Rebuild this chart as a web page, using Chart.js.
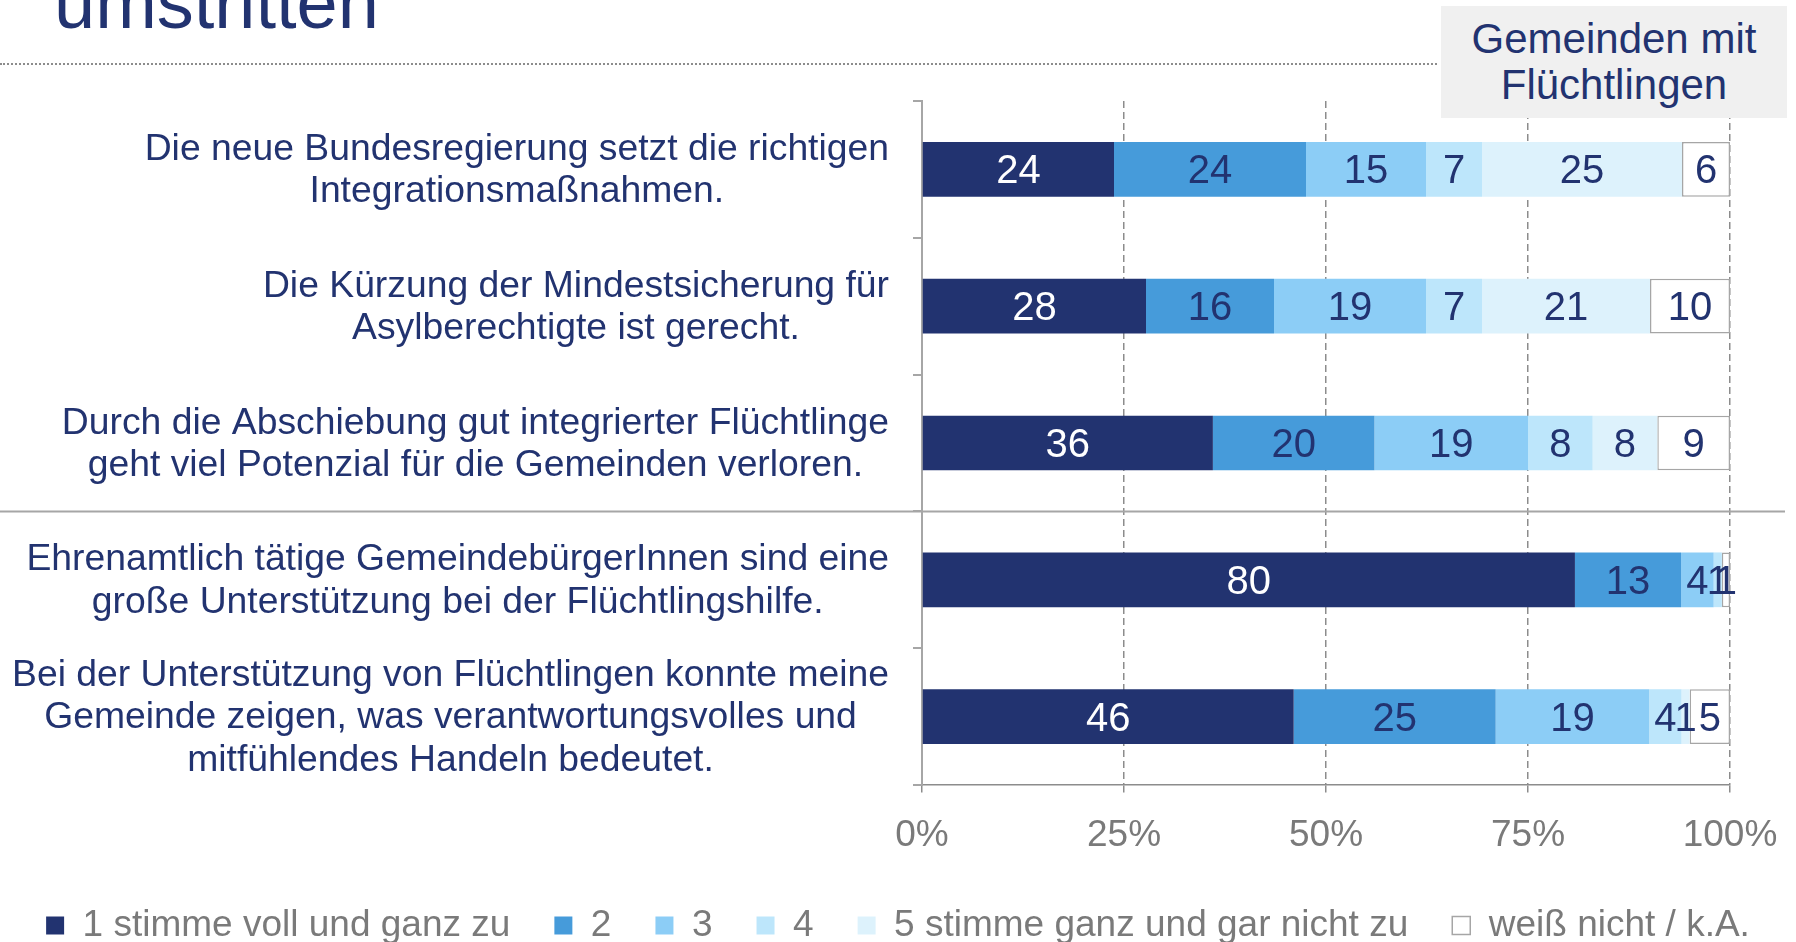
<!DOCTYPE html>
<html lang="de">
<head>
<meta charset="utf-8">
<title>Gemeinden mit Flüchtlingen</title>
<script src="https://cdn.jsdelivr.net/npm/chart.js@4.4.1/dist/chart.umd.min.js"></script>
<style>
  html, body { margin: 0; padding: 0; background: #fff; overflow: hidden; }
  body { width: 1796px; height: 942px; position: relative; font-family: 'Liberation Sans', Arial, sans-serif; }
  #wrap { position: absolute; left: 0; top: 0; width: 1796px; height: 954px; }
  .title { position: absolute; left: 54px; top: -34px; font-size: 74px; line-height: 74px; color: #223370; white-space: nowrap; }
  .rule { position: absolute; left: 0; top: 63px; width: 1437px; border-top: 2px dotted #8c8c8c; }
  .badge { position: absolute; left: 1441px; top: 6px; width: 346px; height: 112px; background: #f0f0f0;
           color: #223370; font-size: 42px; line-height: 46px; text-align: center;
           display: flex; align-items: center; justify-content: center; z-index: 2; }
</style>
</head>
<body>
<div class="title">umstritten</div>
<div class="rule"></div>
<div class="badge">Gemeinden mit<br>Flüchtlingen</div>
<div id="wrap"><canvas id="chart"></canvas></div>

<script>
'use strict';

// statements (one per bar, top to bottom)
var categories = [
  ['Die neue Bundesregierung setzt die richtigen', 'Integrationsmaßnahmen.'],
  ['Die Kürzung der Mindestsicherung für', 'Asylberechtigte ist gerecht.'],
  ['Durch die Abschiebung gut integrierter Flüchtlinge', 'geht viel Potenzial für die Gemeinden verloren.'],
  ['Ehrenamtlich tätige GemeindebürgerInnen sind eine', 'große Unterstützung bei der Flüchtlingshilfe.'],
  ['Bei der Unterstützung von Flüchtlingen konnte meine', 'Gemeinde zeigen, was verantwortungsvolles und', 'mitfühlendes Handeln bedeutet.']
];

var seriesNames = ['1 stimme voll und ganz zu', '2', '3', '4', '5 stimme ganz und gar nicht zu', 'weiß nicht / k.A.'];

// answers in percent, as labelled
var stimme1 = [24, 28, 36, 80, 46];
var stimme2 = [24, 16, 20, 13, 25];
var stimme3 = [15, 19, 19, 4, 19];
var stimme4 = [7, 7, 8, 1, 4];
var stimme5 = [25, 21, 8, 0, 1];
var weissNicht = [6, 10, 9, 1, 5];

var xTicks = [0, 25, 50, 75, 100];

var navy = '#223370';
var colors = ['#223370', '#469bda', '#8ccdf6', '#bde6fb', '#ddf2fc', '#ffffff'];
var series = [stimme1, stimme2, stimme3, stimme4, stimme5, weissNicht];

// 100% stacked: share of each row total
var rowSums = categories.map(function(c, i) {
  return series.reduce(function(s, arr) { return s + arr[i]; }, 0);
});

var datasets = series.map(function(arr, k) {
  return {
    label: seriesNames[k],
    raw: arr,
    data: arr.map(function(v, i) { return v / rowSums[i] * 100; }),
    backgroundColor: colors[k],
    borderColor: k === 5 ? '#a6a6a6' : colors[k],
    borderWidth: k === 5 ? 1.5 : 0,
    borderSkipped: false,
    barPercentage: 0.4,
    categoryPercentage: 1
  };
});

var FONT = "'Liberation Sans', Arial, sans-serif";
Chart.defaults.font.family = FONT;

// category labels: block right aligned, lines centred
var labelPlugin = {
  id: 'labels',
  afterDraw: function(chart) {
    var ctx = chart.ctx;
    var y = chart.scales.y;
    ctx.save();
    ctx.font = '37.3px ' + FONT;
    ctx.fillStyle = navy;
    ctx.textAlign = 'center';
    ctx.textBaseline = 'middle';
    var lh = 42.4;
    var right = 889;
    categories.forEach(function(lines, i) {
      var widest = Math.max.apply(null, lines.map(function(l) { return ctx.measureText(l).width; }));
      var cx = right - widest / 2;
      var cy = y.getPixelForValue(i) + 1.5;
      lines.forEach(function(l, j) {
        ctx.fillText(l, cx, cy + (j - (lines.length - 1) / 2) * lh);
      });
    });
    // separator between third and fourth statement
    var sy = (y.getPixelForValue(2) + y.getPixelForValue(3)) / 2;
    ctx.strokeStyle = '#a6a6a6';
    ctx.lineWidth = 2;
    ctx.beginPath();
    ctx.moveTo(0, sy);
    ctx.lineTo(1785, sy);
    ctx.stroke();
    ctx.restore();
  },
  afterDatasetsDraw: function(chart) {
    var ctx = chart.ctx;
    ctx.save();
    ctx.font = '40px ' + FONT;
    ctx.textAlign = 'center';
    ctx.textBaseline = 'middle';
    chart.data.datasets.forEach(function(ds, k) {
      var meta = chart.getDatasetMeta(k);
      meta.data.forEach(function(el, i) {
        var v = ds.raw[i];
        if (!v) return;
        ctx.fillStyle = k === 0 ? '#ffffff' : navy;
        ctx.fillText(String(v), (el.x + el.base) / 2, el.y + 3);
      });
    });
    ctx.restore();
  }
};

new Chart(document.getElementById('chart'), {
  type: 'bar',
  data: {
    labels: categories.map(function(c) { return c.join(' '); }),
    datasets: datasets
  },
  options: {
    indexAxis: 'y',
    responsive: true,
    maintainAspectRatio: false,
    animation: false,
    layout: { padding: { top: 101, left: 0, right: 0, bottom: 0 } },
    plugins: {
      tooltip: { enabled: false },
      legend: {
        position: 'bottom',
        labels: {
          boxWidth: 18,
          boxHeight: 18,
          padding: 44,
          color: '#7a7a7a',
          font: { size: 37 }
        }
      }
    },
    scales: {
      x: {
        stacked: true,
        min: 0,
        max: 100,
        afterBuildTicks: function(s) { s.ticks = xTicks.map(function(v) { return { value: v }; }); },
        ticks: {
          color: '#7a7a7a',
          font: { size: 37 },
          padding: 21,
          callback: function(v) { return v + '%'; }
        },
        grid: {
          color: '#8c8c8c',
          lineWidth: 1.5,
          tickLength: 8,
          tickBorderDash: [7, 4],
          tickColor: '#8c8c8c'
        },
        border: { display: true, color: '#8c8c8c', width: 1.5, dash: [7, 4] },
        afterFit: function(s) {
          s.height = 78;
          s.paddingLeft = 0;
          s.paddingRight = 0;
        }
      },
      y: {
        stacked: true,
        ticks: { display: false },
        grid: {
          display: true,
          drawOnChartArea: false,
          tickLength: 9,
          color: '#a6a6a6',
          lineWidth: 2
        },
        border: { display: true, color: '#a6a6a6', width: 2 },
        afterFit: function(s) { s.width = 922; }
      },
      yr: {
        type: 'category',
        position: 'right',
        grid: { display: false },
        ticks: { display: false },
        border: { display: false },
        afterFit: function(s) { s.width = 66; }
      }
    }
  },
  plugins: [labelPlugin]
});
</script>
</body>
</html>
